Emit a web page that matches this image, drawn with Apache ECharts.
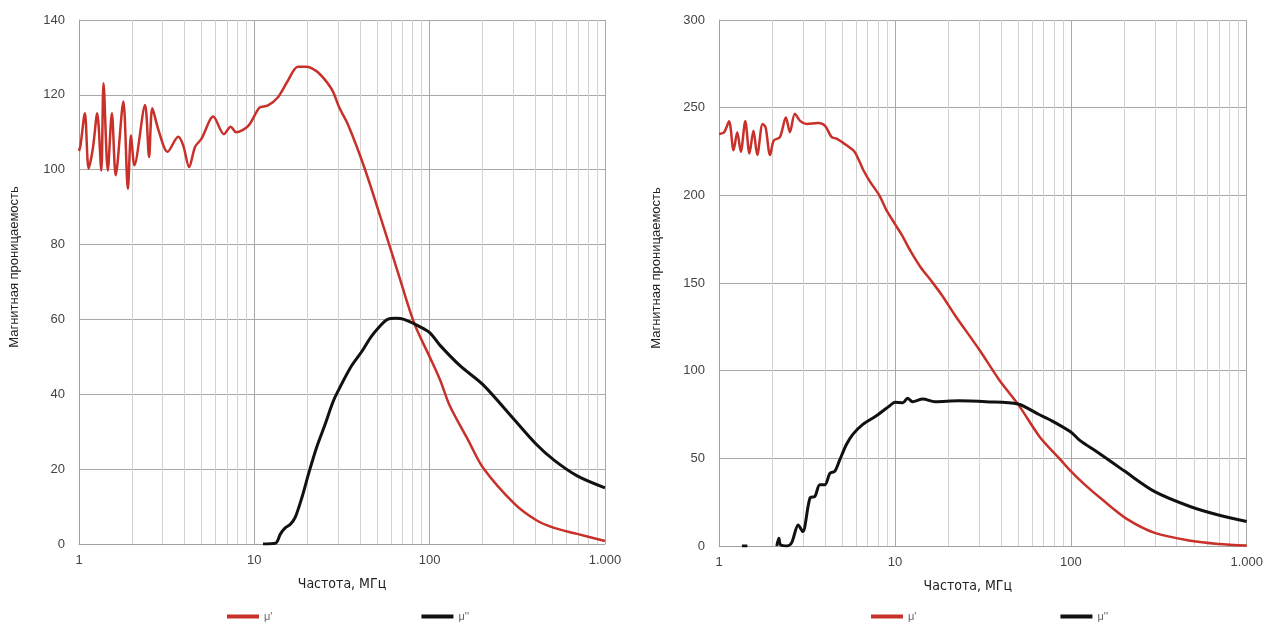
<!DOCTYPE html>
<html>
<head>
<meta charset="utf-8">
<script src="https://cdn.jsdelivr.net/npm/echarts@6/dist/echarts.min.js"></script>
<style>
    html, body { margin: 0; padding: 0; background: #fff; }
    .chart { position: absolute; top: 0; height: 624px; }
    .left { left: 0; width: 640px; }
    .right { left: 640px; width: 626px; }
</style>
</head>
<body>
<div class="chart left"></div>
<div class="chart right"></div>
<script>
// левый график: частота (МГц) и проницаемость
var leftFreqRe = [1.0, 1.02, 1.08, 1.135, 1.2, 1.27, 1.34, 1.38, 1.46, 1.54, 1.62, 1.79, 1.9, 1.98, 2.07, 2.38, 2.51, 2.62, 2.84, 3.2, 3.68, 3.93, 4.25, 4.59, 5.0, 5.83, 6.71, 7.33, 7.88, 9.24, 10.7, 11.9, 13.6, 15.5, 17.7, 19.8, 22.5, 25.1, 28.0, 30.5, 34.1, 42.4, 52.7, 65.5, 81.6, 100, 115, 130, 166, 202, 305, 404, 512, 694, 1000];
var leftMuRe = [105, 106.5, 115.1, 100.3, 105.7, 115.1, 99.8, 123.1, 99.8, 115.1, 98.5, 118.2, 94.9, 109.2, 101.2, 117.3, 103.4, 116.4, 110.6, 104.8, 108.8, 106.5, 100.7, 106.1, 108.3, 114.2, 109.5, 111.5, 110, 111.7, 116.6, 117.1, 119.3, 123.7, 127.5, 127.5, 126.4, 124.2, 121, 116.6, 112.2, 100.6, 87, 73, 59, 50, 43.7, 37, 27.7, 20.3, 10.7, 6.4, 4.3, 2.7, 0.8];
var leftFreqIm = [11.2, 13.2, 14.1, 15.0, 16.0, 17.1, 18.7, 20.4, 22.7, 25.4, 27.4, 28.9, 35.5, 41.1, 46.2, 52, 57.5, 64, 71.4, 85, 100, 115, 150, 202, 305, 404, 512, 694, 1000];
var leftMuIm = [0, 0.2, 2.7, 4.3, 5.2, 7.1, 12.5, 18.8, 25.9, 32.1, 36.6, 39.3, 47.3, 51.5, 55.3, 58.2, 60, 60.3, 60, 58.4, 56.5, 53, 47.5, 42.5, 33.1, 26.7, 22.4, 18.2, 15];

// правый график
var rightFreqRe = [1.0, 1.07, 1.14, 1.21, 1.27, 1.33, 1.41, 1.49, 1.57, 1.65, 1.77, 1.84, 1.95, 2.05, 2.22, 2.4, 2.53, 2.7, 2.89, 3.15, 3.66, 4.0, 4.37, 4.66, 5.31, 5.9, 6.6, 7.2, 8.2, 8.9, 10.1, 11.0, 12.3, 14.0, 16.3, 18.5, 22, 30.4, 39, 50.4, 66.6, 85, 98.7, 120, 152, 208, 300, 480, 690, 1000];
var rightMuRe = [235, 236, 242.2, 225.7, 236, 224.8, 242.2, 223.9, 236.9, 223, 240.7, 238.8, 223, 231.3, 233.2, 244.4, 236, 246.6, 242.5, 240.7, 241.2, 239.7, 233.2, 232.3, 228.5, 224.8, 214.6, 208, 199.6, 192, 183, 177, 168, 159, 150.5, 143, 131.5, 111.5, 95, 80.5, 62.2, 50.5, 43.3, 35, 26.2, 15.5, 7.5, 3, 1.2, 0.3];
var rightFreqIm = [1.35, 1.45, 1.8, 2.13, 2.19, 2.24, 2.44, 2.59, 2.82, 2.99, 3.29, 3.51, 3.74, 4.0, 4.27, 4.56, 4.87, 5.31, 5.78, 6.6, 7.85, 9.35, 10, 11.1, 11.8, 12.6, 14.4, 16.9, 23, 33, 50, 66, 76, 100, 112, 144, 200, 300, 480, 690, 1000];
var rightMuIm = [0, 0, null, 0, 4.4, 0.6, 0, 1.9, 12, 8.2, 27.4, 28.3, 35, 35, 41.4, 42.7, 49.4, 58, 63.8, 69.5, 74.3, 80, 82, 81.7, 84.2, 82.3, 83.8, 82.3, 82.8, 82.3, 81, 75, 72, 65, 60.4, 53, 43, 31, 22.4, 17.7, 14];

var xTicks = [1, 10, 100, 1000];
var yTitle = "Магнитная проницаемость";
var xTitle = "Частота, МГц";
var names = ["μ'", "μ''"];

function pairs(xs, ys) {
    return xs.map(function(x, i) { return [x, ys[i]]; });
}

// тонкие линии сетки внутри декад (2..9)
var minorLines = [];
xTicks.slice(0, 3).forEach(function(d) {
    for (var k = 2; k <= 9; k++) minorLines.push({ xAxis: d * k });
});

function makeOption(cfg) {
    return {
        animation: false,
        grid: {
            left: cfg.left,
            right: cfg.right,
            top: 20,
            bottom: cfg.bottom
        },
        legend: {
            left: cfg.legendLeft,
            top: 606,
            itemGap: cfg.legendGap,
            itemWidth: 32,
            itemHeight: 4,
            icon: "rect",
            data: names,
            textStyle: {
                color: "#666",
                fontSize: 11,
                fontFamily: "Liberation Sans"
            }
        },
        xAxis: {
            type: "log",
            logBase: 10,
            min: 1,
            max: 1000,
            name: xTitle,
            nameLocation: "middle",
            nameGap: 33,
            nameTextStyle: {
                color: "#222",
                fontSize: 14,
                fontFamily: "'DejaVu Sans Condensed', 'Liberation Sans Narrow', 'Noto Sans', sans-serif",
                padding: cfg.xNamePad
            },
            axisLine: { show: true, lineStyle: { color: "#a0a0a0" } },
            axisTick: { show: false },
            axisLabel: {
                color: "#444",
                fontSize: 13,
                fontFamily: "Liberation Sans",
                margin: 10,
                formatter: function(v) {
                    return v >= 1000 ? "1.000" : String(v);
                }
            },
            splitLine: { show: true, lineStyle: { color: "#a8a8a8" } }
        },
        yAxis: {
            type: "value",
            min: 0,
            max: cfg.yMax,
            interval: cfg.yStep,
            name: yTitle,
            nameLocation: "middle",
            nameGap: cfg.yNameGap,
            nameTextStyle: {
                color: "#222",
                fontSize: 13,
                fontFamily: "Liberation Sans",
                padding: [0, 0, 0, 30]
            },
            axisLine: { show: true, lineStyle: { color: "#a0a0a0" } },
            axisTick: { show: false },
            axisLabel: {
                color: "#444",
                fontSize: 13,
                fontFamily: "Liberation Sans",
                margin: 14
            },
            splitLine: { lineStyle: { color: "#a8a8a8" } }
        },
        series: [{
            name: names[0],
            type: "line",
            data: pairs(cfg.freqRe, cfg.muRe),
            showSymbol: false,
            symbol: "none",
            smooth: 0.3,
            color: "#c8302a",
            lineStyle: { width: 2.5, color: "#c8302a" },
            z: 3,
            markLine: {
                silent: true,
                symbol: ["none", "none"],
                label: { show: false },
                z: 1,
                lineStyle: { color: "#d2d2d2", width: 1, type: "solid" },
                emphasis: { disabled: true },
                data: minorLines
            }
        }, {
            name: names[1],
            type: "line",
            data: pairs(cfg.freqIm, cfg.muIm),
            showSymbol: false,
            symbol: "none",
            smooth: 0.3,
            connectNulls: false,
            color: "#111",
            lineStyle: { width: 3, color: "#111" },
            z: 4
        }]
    };
}

(function() {
    let myChart = echarts.init(document.querySelector(".left"));
    myChart.setOption(makeOption({
        left: 77, right: 35, bottom: 80,
        yMax: 140, yStep: 20, yNameGap: 58,
        legendLeft: 222, legendGap: 149,
        xNamePad: [0, 0, 0, 0],
        freqRe: leftFreqRe, muRe: leftMuRe,
        freqIm: leftFreqIm, muIm: leftMuIm
    }));
    window.addEventListener("resize", function() {
        myChart.resize();
    });
})();
(function() {
    let myChart = echarts.init(document.querySelector(".right"));
    myChart.setOption(makeOption({
        left: 79, right: 19, bottom: 78,
        yMax: 300, yStep: 50, yNameGap: 56,
        legendLeft: 226, legendGap: 144,
        xNamePad: [0, 30, 0, 0],
        freqRe: rightFreqRe, muRe: rightMuRe,
        freqIm: rightFreqIm, muIm: rightMuIm
    }));
    window.addEventListener("resize", function() {
        myChart.resize();
    });
})();
</script>
</body>
</html>
